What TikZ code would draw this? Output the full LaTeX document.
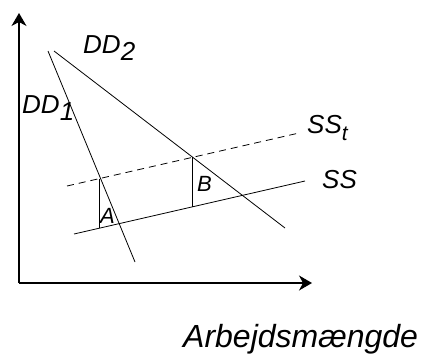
\documentclass[tikz,border=0pt]{standalone}
\usepackage{fontspec}
\setmainfont{Liberation Sans}
\usetikzlibrary{arrows.meta}

\newcommand{\lowsub}[1]{\raisebox{-0.3em}{#1}}

\begin{document}
\begin{tikzpicture}[x=1pt,y=-1pt,
    lbl/.style={anchor=base west, inner sep=0pt, font=\fontsize{26}{31}\selectfont\itshape},
    small/.style={anchor=base west, inner sep=0pt, font=\fontsize{22}{26}\selectfont\itshape},
    curve/.style={line width=0.8pt}]
\useasboundingbox (0,0) rectangle (425,359);

% --- AXES ---
\coordinate (origin) at (19,283);
\coordinate (ytop) at (19,13);
\coordinate (xend) at (312,283);
\draw[-{Stealth[length=13pt,width=15pt,inset=4pt]}, line width=1.2pt] (origin) -- (ytop);
\draw[-{Stealth[length=13pt,width=15pt,inset=4pt]}, line width=1.2pt] (origin) -- (xend);

% --- DEMAND CURVES ---
\coordinate (dd1a) at (48,51);
\coordinate (dd1b) at (135,262);
\coordinate (dd2a) at (54,51);
\coordinate (dd2b) at (285,228);
\draw[curve] (dd1a) -- (dd1b);
\draw[curve] (dd2a) -- (dd2b);

% --- SUPPLY CURVES ---
\coordinate (sta) at (67,186);
\coordinate (stb) at (299,133);
\coordinate (ssa) at (74,234);
\coordinate (ssb) at (305,181);
\draw[curve, dash pattern=on 7pt off 5pt] (sta) -- (stb);
\draw[curve] (ssa) -- (ssb);

% wedge distances
\coordinate (atop) at (99,178.7);
\coordinate (abot) at (99,228.3);
\coordinate (btop) at (192,157.4);
\coordinate (bbot) at (192,206.9);
\draw[curve] (atop) -- (abot);
\draw[curve] (btop) -- (bbot);

% --- LABELS ---
\node[lbl] (ldd2) at (83,53) {DD\lowsub{2}};
\node[lbl] (ldd1) at (22,113) {DD\lowsub{1}};
\node[lbl] (lsst) at (307,133) {SS\lowsub{\fontsize{21}{25}\selectfont t}};
\node[lbl] (lss) at (322,188) {SS};
\node[small] (la) at (100,223) {A};
\node[small] (lb) at (197,191) {B};
\node[anchor=base west, inner sep=0pt, font=\fontsize{32}{38}\selectfont\itshape] (lx) at (183,347) {Arbejdsmængde};
\end{tikzpicture}
\end{document}
